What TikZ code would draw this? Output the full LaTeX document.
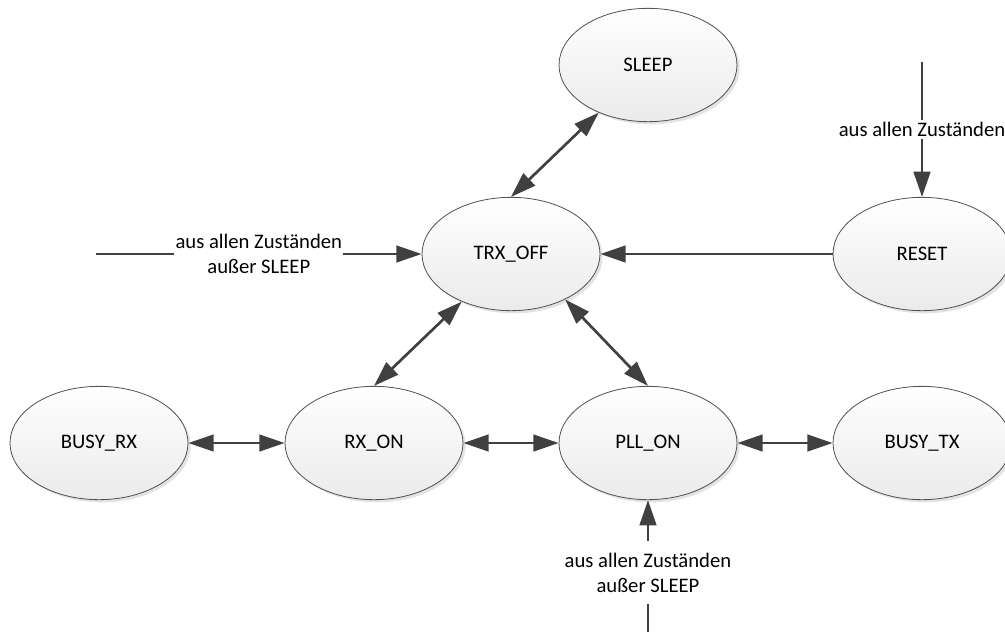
\documentclass[tikz,border=0pt]{standalone}
\usepackage{fontspec}
\setmainfont{Carlito}
\usetikzlibrary{shapes.geometric,arrows.meta,shadows}
\definecolor{edgecol}{HTML}{404040}
\definecolor{bordercol}{HTML}{505050}
\definecolor{shadowcol}{HTML}{C8C8C8}
\begin{document}
\begin{tikzpicture}[x=0.75pt,y=-0.75pt,
  state/.style={ellipse, draw=bordercol, line width=0.6pt, top color=white, bottom color=black!8,
    minimum width=133.5pt, minimum height=85pt, inner sep=0pt,
    font=\fontsize{15.5}{18.75}\selectfont,
    drop shadow={shadow xshift=2pt, shadow yshift=-2pt, fill=shadowcol, draw=none}},
  conn/.style={draw=edgecol, line width=2pt},
  tipstyle/.style={},
  both/.style={conn, {Triangle[length=19pt,width=12.5pt]}-{Triangle[length=19pt,width=12.5pt]}},
  one/.style={conn, -{Triangle[length=19pt,width=12.5pt]}},
  lbl/.style={fill=white, inner xsep=1pt, align=center, font=\fontsize{15.5}{18.75}\selectfont}
]
\useasboundingbox (0,0) rectangle (1005,633);
\clip (0,0) rectangle (1005,633);

\node[state] (sleep) at (648,65) {SLEEP};
\node[state] (trx) at (511,254) {TRX\_OFF};
\node[state] (reset) at (922,254) {RESET};
\node[state] (busyrx) at (99,443) {BUSY\_RX};
\node[state] (rx) at (374,443) {RX\_ON};
\node[state] (pll) at (648,443) {PLL\_ON};
\node[state] (busytx) at (922,443) {BUSY\_TX};

\coordinate (leftsrc) at (96,254);
\coordinate (topsrc) at (922,62);
\coordinate (botsrc) at (648,632);

\draw[both] (sleep.224) -- (trx.north);
\draw[both] (trx.224) -- (rx.north);
\draw[both] (trx.320.6) -- (pll.north);
\draw[both] (busyrx.east) -- (rx.west);
\draw[both] (rx.east) -- (pll.west);
\draw[both] (pll.east) -- (busytx.west);
\draw[one] (reset.west) -- (trx.east);

\draw[one] (leftsrc) -- node[lbl, inner ysep=1pt] {aus allen Zuständen\\außer SLEEP} (trx.west);
\draw[one] (topsrc) -- node[lbl, inner ysep=2pt] {aus allen Zuständen} (reset.north);
\draw[one] (botsrc) -- node[lbl, inner ysep=9pt, pos=0.45] {aus allen Zuständen\\außer SLEEP} (pll.south);
\end{tikzpicture}
\end{document}
